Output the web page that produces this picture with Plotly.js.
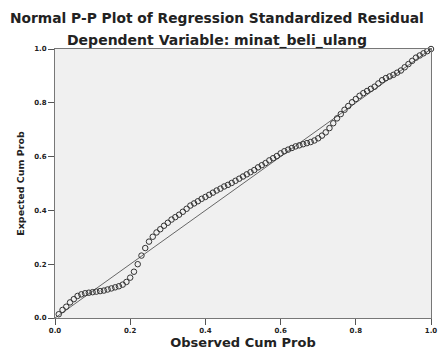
<!DOCTYPE html>
<html>
<head>
<meta charset="utf-8">
<script src="https://cdn.plot.ly/plotly-3.0.1.min.js"></script>
<style>html,body{margin:0;padding:0;background:#fff;}#chart{width:438px;height:350px;}</style>
</head>
<body>
<div id="chart"></div>
<script>
var observedCumProb = [0.01,0.02,0.03,0.04,0.05,0.06,0.07,0.08,0.09,0.10,
0.11,0.12,0.13,0.14,0.15,0.16,0.17,0.18,0.19,0.20,
0.21,0.22,0.23,0.24,0.25,0.26,0.27,0.28,0.29,0.30,
0.31,0.32,0.33,0.34,0.35,0.36,0.37,0.38,0.39,0.40,
0.41,0.42,0.43,0.44,0.45,0.46,0.47,0.48,0.49,0.50,
0.51,0.52,0.53,0.54,0.55,0.56,0.57,0.58,0.59,0.60,
0.61,0.62,0.63,0.64,0.65,0.66,0.67,0.68,0.69,0.70,
0.71,0.72,0.73,0.74,0.75,0.76,0.77,0.78,0.79,0.80,
0.81,0.82,0.83,0.84,0.85,0.86,0.87,0.88,0.89,0.90,
0.91,0.92,0.93,0.94,0.95,0.96,0.97,0.98,0.99,1.00];
var expectedCumProb = [0.014,0.030,0.042,0.058,0.070,0.082,0.088,0.092,0.094,0.096,
0.098,0.100,0.102,0.106,0.110,0.114,0.118,0.124,0.134,0.150,
0.172,0.200,0.232,0.260,0.284,0.302,0.318,0.330,0.343,0.354,
0.366,0.375,0.384,0.395,0.406,0.418,0.426,0.434,0.443,0.450,
0.458,0.466,0.474,0.481,0.489,0.495,0.502,0.510,0.518,0.526,
0.534,0.542,0.550,0.560,0.568,0.576,0.586,0.594,0.602,0.612,
0.620,0.626,0.632,0.638,0.642,0.646,0.650,0.654,0.660,0.668,
0.678,0.690,0.706,0.724,0.742,0.758,0.774,0.788,0.802,0.814,
0.826,0.836,0.844,0.852,0.860,0.872,0.884,0.892,0.898,0.904,
0.912,0.920,0.932,0.944,0.956,0.968,0.976,0.984,0.992,1.000];
var refLineX = [0, 1];
var refLineY = [0, 1];
var tickVals = [0, 0.2, 0.4, 0.6, 0.8, 1.0];
var tickText = ["0.0", "0.2", "0.4", "0.6", "0.8", "1.0"];
var titleLine1 = "Normal P-P Plot of Regression Standardized Residual";
var titleLine2 = "Dependent Variable: minat_beli_ulang";
var xTitle = "Observed Cum Prob";
var yTitle = "Expected Cum Prob";

var font = "DejaVu Sans, Verdana, sans-serif";
var traces = [
  {x: refLineX, y: refLineY, mode: "lines", line: {color: "#666", width: 1}, hoverinfo: "skip"},
  {x: observedCumProb, y: expectedCumProb, mode: "markers", cliponaxis: false,
   marker: {symbol: "circle-open", size: 5.5, color: "#333", line: {width: 1}}}
];
var axisCommon = {
  range: [0, 1], tickvals: tickVals, ticktext: tickText, ticks: "outside", ticklen: 6,
  tickwidth: 1, tickcolor: "#555", showgrid: false, zeroline: false,
  showline: true, linecolor: "#777", linewidth: 1, mirror: true,
  tickfont: {family: font, size: 7, color: "#222", weight: "bold"}
};
var layout = {
  width: 438, height: 350,
  margin: {l: 55, r: 7, t: 49, b: 32},
  paper_bgcolor: "#fff", plot_bgcolor: "#f0f0f0",
  showlegend: false,
  xaxis: Object.assign({}, axisCommon, {title: {text: xTitle, standoff: 5, font: {family: font, size: 13, color: "#222", weight: "bold"}}}),
  yaxis: Object.assign({}, axisCommon, {title: {text: yTitle, standoff: 7, font: {family: font, size: 9.5, color: "#222", weight: "bold"}}}),
  annotations: [
    {text: titleLine1, xref: "paper", yref: "paper", x: 0.43, y: 1.115, showarrow: false, yanchor: "middle",
     font: {family: font, size: 13.8, color: "#222", weight: "bold"}},
    {text: titleLine2, xref: "paper", yref: "paper", x: 0.43, y: 1.033, showarrow: false, yanchor: "middle",
     font: {family: font, size: 14, color: "#222", weight: "bold"}}
  ]
};
Plotly.newPlot("chart", traces, layout, {displayModeBar: false, staticPlot: true});
</script>
</body>
</html>
